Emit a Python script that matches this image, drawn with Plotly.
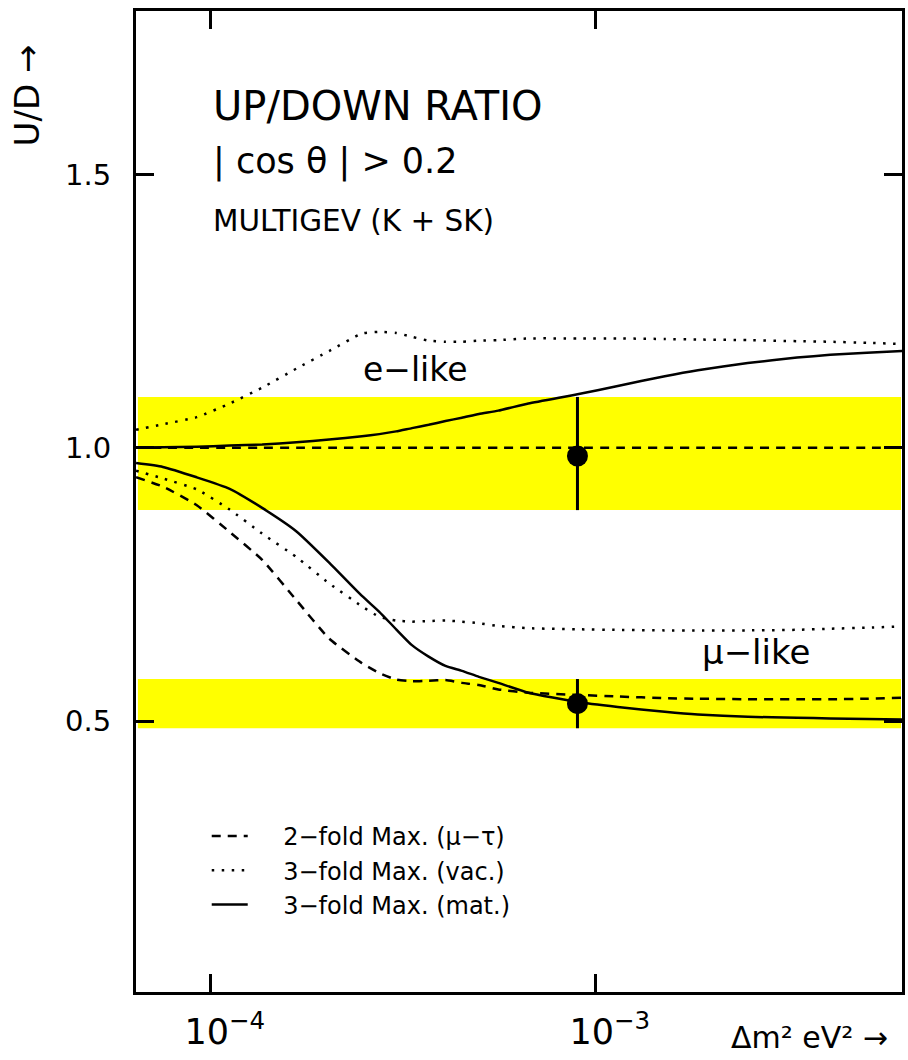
import plotly.graph_objects as go

# Delta m^2 grid (eV^2) shared by all model curves
dm2 = [6.40e-5, 7.51e-5, 9.20e-5, 1.12e-4, 1.36e-4, 1.67e-4, 2.03e-4, 2.47e-4,
       2.74e-4, 3.03e-4, 3.33e-4, 3.68e-4, 4.07e-4, 4.49e-4, 4.97e-4, 5.58e-4,
       6.68e-4, 8.96e-4, 1.14e-3, 1.51e-3, 1.84e-3, 2.48e-3, 3.33e-3, 4.06e-3,
       5.06e-3, 6.24e-3]

# e-like up/down ratio predictions
e_2fold = [1.0] * len(dm2)
e_vac = [1.033, 1.043, 1.056, 1.081, 1.110, 1.145, 1.177, 1.209, 1.212, 1.210,
         1.203, 1.196, 1.194, 1.194, 1.196, 1.197, 1.200, 1.200, 1.200, 1.199,
         1.198, 1.197, 1.195, 1.194, 1.192, 1.190]
e_mat = [1.000, 1.001, 1.002, 1.004, 1.006, 1.010, 1.015, 1.021, 1.025, 1.030,
         1.036, 1.042, 1.049, 1.055, 1.062, 1.068, 1.081, 1.098, 1.113, 1.131,
         1.142, 1.155, 1.165, 1.170, 1.174, 1.177]

# mu-like up/down ratio predictions
mu_2fold = [0.946, 0.929, 0.895, 0.846, 0.795, 0.721, 0.651, 0.606, 0.588, 0.576,
            0.573, 0.574, 0.575, 0.570, 0.566, 0.558, 0.552, 0.548, 0.545, 0.542,
            0.541, 0.540, 0.540, 0.540, 0.541, 0.543]
mu_vac = [0.958, 0.944, 0.924, 0.887, 0.843, 0.800, 0.752, 0.710, 0.691, 0.684,
          0.682, 0.683, 0.684, 0.682, 0.679, 0.674, 0.670, 0.668, 0.667, 0.666,
          0.666, 0.666, 0.667, 0.669, 0.671, 0.673]
mu_mat = [0.972, 0.965, 0.946, 0.925, 0.890, 0.847, 0.790, 0.729, 0.700, 0.668,
          0.639, 0.618, 0.601, 0.592, 0.581, 0.570, 0.552, 0.535, 0.526, 0.517,
          0.512, 0.508, 0.506, 0.505, 0.504, 0.503]

# measured ratios (K + SK multi-GeV) with errors
meas_dm2 = 8.96e-4
e_meas, e_err_up, e_err_dn = 0.985, 0.108, 0.099
mu_meas, mu_err_up, mu_err_dn = 0.532, 0.045, 0.045

# horizontal extent of the 1-sigma bands
band_dm2 = [6.47e-5, 6.2e-3]

legend_names = ["2\u2212fold Max. (\u03bc\u2212\u03c4)",
                "3\u2212fold Max. (vac.)",
                "3\u2212fold Max. (mat.)"]

YELLOW = "#ffff00"
FONT = "DejaVu Sans"
LW = 2.5
DASH = "9px,7px"
DOT = "2.5px,7.5px"
GAP = "\u00a0" * 4  # spacing between legend key and its label

fig = go.Figure()

# 1-sigma bands around the measurements
for centre, up, dn in [(e_meas, e_err_up, e_err_dn), (mu_meas, mu_err_up, mu_err_dn)]:
    lo, hi = centre - dn, centre + up
    fig.add_trace(go.Scatter(
        x=[band_dm2[0], band_dm2[1], band_dm2[1], band_dm2[0], band_dm2[0]],
        y=[lo, lo, hi, hi, lo],
        mode="lines", fill="toself", fillcolor=YELLOW,
        line=dict(width=0), showlegend=False, hoverinfo="skip"))

styles = [DASH, DOT, "solid"]
for ys, dash in zip((e_2fold, e_vac, e_mat), styles):
    fig.add_trace(go.Scatter(x=dm2, y=ys, mode="lines",
                             line=dict(color="black", width=LW, dash=dash,
                                       shape="spline", smoothing=0.5),
                             showlegend=False))

for ys, dash, name in zip((mu_2fold, mu_vac, mu_mat), styles, legend_names):
    fig.add_trace(go.Scatter(x=dm2, y=ys, mode="lines", name=GAP + name,
                             line=dict(color="black", width=LW, dash=dash,
                                       shape="spline", smoothing=0.5),
                             showlegend=True))

# data points with error bars
fig.add_trace(go.Scatter(
    x=[meas_dm2, meas_dm2], y=[e_meas, mu_meas], mode="markers",
    marker=dict(color="black", size=21),
    error_y=dict(type="data", symmetric=False,
                 array=[e_err_up, mu_err_up], arrayminus=[e_err_dn, mu_err_dn],
                 color="black", thickness=3, width=0),
    showlegend=False))


def px(xp):
    return (xp - 136) / 769.0


def py(yp):
    return (992 - yp) / 981.0


annotations = [
    dict(text="UP/DOWN RATIO", x=px(211), y=py(106), size=40),
    dict(text="| cos \u03b8 | > 0.2", x=px(211), y=py(162), size=35),
    dict(text="MULTIGEV (K + SK)", x=px(211), y=py(221), size=29.5),
    dict(text="e\u2212like", x=px(362), y=py(369), size=33),
    dict(text="\u03bc\u2212like", x=px(702), y=py(652), size=34),
]
ann = []
for a in annotations:
    ann.append(dict(text=a["text"], x=a["x"], y=a["y"], xref="paper", yref="paper",
                    xanchor="left", yanchor="middle", showarrow=False,
                    font=dict(family=FONT, size=a["size"], color="black")))
ann.append(dict(text="U/D \u2192", x=px(27), y=py(95), xref="paper", yref="paper",
                xanchor="center", yanchor="middle", textangle=-90, showarrow=False,
                font=dict(family=FONT, size=34, color="black")))
ann.append(dict(text="\u0394m\u00b2 eV\u00b2 \u2192", x=px(812), y=py(1037),
                xref="paper", yref="paper", xanchor="center", yanchor="middle",
                showarrow=False, font=dict(family=FONT, size=30, color="black")))

axis_common = dict(showline=True, linecolor="black", linewidth=3, mirror="ticks",
                   ticks="inside", ticklen=18, tickwidth=2.5, tickcolor="black",
                   showgrid=False, zeroline=False)

fig.update_layout(
    width=908, height=1060,
    margin=dict(l=136, r=3, t=11, b=68),
    paper_bgcolor="white", plot_bgcolor="white",
    font=dict(family=FONT, color="black"),
    xaxis=dict(type="log", range=[-4.194, -2.205], dtick=1, exponentformat="power",
               showexponent="all", ticklabelstandoff=8, ticklabelshift=14,
               tickfont=dict(family=FONT, size=28, color="black"), **axis_common),
    yaxis=dict(range=[0.0045, 1.799], tickvals=[0.5, 1.0, 1.5],
               ticktext=["0.5", "1.0", "1.5"], ticklabelstandoff=16,
               tickfont=dict(family=FONT, size=29, color="black"), **axis_common),
    legend=dict(x=px(207), y=py(814), xanchor="left", yanchor="top",
                bgcolor="rgba(0,0,0,0)", itemwidth=36,
                font=dict(family=FONT, size=24, color="black"),
                traceorder="normal"),
    annotations=ann,
    showlegend=True,
)

fig.write_html("out.html")
